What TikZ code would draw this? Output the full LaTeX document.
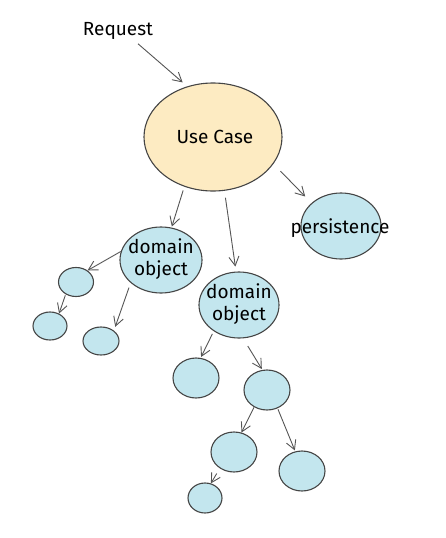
\documentclass[tikz,border=0pt]{standalone}
\usepackage{fontspec}
\setmainfont{Fira Sans}
\usepackage{tikz}
\usetikzlibrary{arrows.meta, shapes.geometric, positioning}
\definecolor{ucfill}{HTML}{FDEBC2}
\definecolor{objfill}{HTML}{C3E6EE}
\definecolor{edge}{HTML}{555555}
\definecolor{rim}{HTML}{454545}

\begin{document}
\begin{tikzpicture}[x=1pt, y=-1pt,
    blob/.style={ellipse, draw=rim, line width=1.1pt, fill=objfill, inner sep=0pt},
    word/.style={font=\fontsize{19}{22}\selectfont, align=center, inner sep=0pt},
    flow/.style={draw=edge, line width=0.9pt, -{Straight Barb[length=9pt,width=10pt]}}]
                        \useasboundingbox (0,0) rectangle (446,538);
                        \node[word] (req) at (118,31) {Request};
                        \node[blob, fill=ucfill, minimum width=138pt, minimum height=108pt] (uc) at (213,137) {};
                        \node[blob, minimum width=80pt, minimum height=66pt] (pers) at (341,226) {};
                        \node[blob, minimum width=82pt, minimum height=66pt] (do1) at (161,260) {};
                        \node[blob, minimum width=80pt, minimum height=66pt] (do2) at (239,305) {};
                        \node[blob, minimum width=35pt, minimum height=29pt] (a) at (76,282) {};
                        \node[blob, minimum width=34pt, minimum height=28pt] (b) at (50,326) {};
                        \node[blob, minimum width=36pt, minimum height=28pt] (c) at (101,341) {};
                        \node[blob, minimum width=46pt, minimum height=40pt] (d) at (196,378) {};
                        \node[blob, minimum width=46pt, minimum height=40pt] (e) at (267,390) {};
                        \node[blob, minimum width=46pt, minimum height=40pt] (f) at (234,452) {};
                        \node[blob, minimum width=46pt, minimum height=40pt] (g) at (302,471) {};
                        \node[blob, minimum width=34pt, minimum height=30pt] (h) at (205,498) {};
                        \node[word] (uct) at (215,137) {Use Case};
                        \node[word] (perst) at (340,228) {persistence};
                        \node[word] (do1t) at (161,259) {domain\\object};
                        \node[word] (do2t) at (239,304) {domain\\object};
                        \draw[flow, shorten >=6pt] ([xshift=20pt,yshift=-4pt]req.south) -- (uc.117);
                        \draw[flow, shorten <=4pt, shorten >=1pt] (uc.240) -- (do1.72);
                        \draw[flow, shorten <=7pt, shorten >=5pt] (uc.282) -- (do2.95);
                        \draw[flow, shorten <=10pt, shorten >=9pt] (uc.336) -- (pers.142);
                        \draw[flow] (do1.168) -- (a.45);
                        \draw[flow, shorten <=5pt, shorten >=4pt] (do1.217) -- (c.39);
                        \draw[flow, shorten <=1pt] (a.230) -- (b.54);
                        \draw[flow, shorten <=3pt, shorten >=1pt] (do2.226) -- (d.77);
                        \draw[flow, shorten <=9pt, shorten >=1pt] (do2.277) -- (e.103);
                        \draw[flow] (e.233) -- (f.69);
                        \draw[flow, shorten <=1pt, shorten >=1pt] (e.300) -- (g.109);
                        \draw[flow, shorten <=6pt] (f.229) -- (h.68);
                    \end{tikzpicture}
\end{document}
